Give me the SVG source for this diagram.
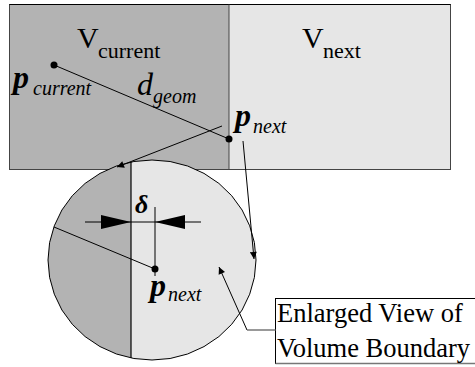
<svg xmlns="http://www.w3.org/2000/svg" width="475" height="367" viewBox="0 0 475 367">
<style>
  .t { font-family: "Liberation Serif", "Times New Roman", serif; fill: #000; }
  .big { font-size: 30px; }
  .sub { font-size: 22px; }
  .pi { font-size: 32px; font-style: italic; font-weight: bold; }
  .di { font-size: 32px; font-style: italic; }
  .si { font-size: 20px; font-style: italic; }
  .lbl { font-size: 26.5px; }
  .ln { stroke: #000; stroke-width: 1; fill: none; }
  .dark { fill: #b3b3b3; }
  .light { fill: #e6e6e6; }
</style>
<defs>
  <marker id="ah" viewBox="0 0 10 10" refX="10" refY="5" markerWidth="10" markerHeight="7" markerUnits="userSpaceOnUse" orient="auto">
    <path d="M0,0 L10,5 L0,10 Z" fill="#000"/>
  </marker>
  <polygon id="circ" points="256,260 254.4,277.4 249.7,294.2 242.1,310 231.7,324.3 218.9,336.6 204,346.6 187.6,354 170.1,358.5 152,360 133.9,358.5 116.4,354 100,346.6 85.1,336.6 72.3,324.3 61.9,310 54.3,294.2 49.6,277.4 48,260 49.6,242.6 54.3,225.8 61.9,210 72.3,195.7 85.1,183.4 100,173.4 116.4,166 133.9,161.5 152,160 170.1,161.5 187.6,166 204,173.4 218.9,183.4 231.7,195.7 242.1,210 249.7,225.8 254.4,242.6"/>
  <clipPath id="cc"><use href="#circ"/></clipPath>
</defs>

<g id="volumes">
  <rect x="9.5" y="4.5" width="219.5" height="165" class="dark"/>
  <rect x="229" y="4.5" width="221.5" height="165" class="light"/>
  <rect x="9.5" y="4.5" width="441" height="165" fill="none" stroke="#444" stroke-width="1"/>
  <line x1="9.5" y1="4.5" x2="450.5" y2="4.5" stroke="#000" stroke-width="1"/>
  <line x1="229" y1="4.5" x2="229" y2="169.5" stroke="#444" stroke-width="1"/>
</g>

<g id="v-current">
  <text class="t big" x="77" y="48">V</text>
  <text class="t sub" x="98" y="58">current</text>
</g>
<g id="v-next">
  <text class="t big" x="302" y="48">V</text>
  <text class="t sub" x="323" y="58">next</text>
</g>

<g id="p-current">
  <circle cx="54" cy="65" r="3.5" fill="#000"/>
  <text class="t pi" x="13" y="88">p</text>
  <text class="t si" x="33" y="95">current</text>
</g>

<g id="d-geom">
  <text class="t di" x="137" y="95">d</text>
  <text class="t si" x="153" y="103">geom</text>
</g>

<g id="p-next">
  <circle cx="229" cy="139" r="3.5" fill="#000"/>
  <text class="t pi" x="235" y="126">p</text>
  <text class="t si" x="253" y="133">next</text>
</g>

<g id="enlarged-view">
  <g clip-path="url(#cc)">
    <rect x="40" y="150" width="91" height="220" class="dark"/>
    <rect x="131" y="150" width="140" height="220" class="light"/>
  </g>
  <use href="#circ" fill="none" stroke="#000" stroke-width="1"/>
  <line x1="131" y1="162" x2="131" y2="358" stroke="#000" stroke-width="1.2"/>
  <line class="ln" x1="54" y1="227" x2="155" y2="269"/>
  <line class="ln" x1="155" y1="207" x2="155" y2="276"/>
  <circle cx="155" cy="269" r="3.5" fill="#000"/>
  <line class="ln" x1="85" y1="222" x2="201" y2="222"/>
  <polygon points="101,215 131,222 101,229" fill="#000"/>
  <polygon points="185,215 155,222 185,229" fill="#000"/>
  <text class="t pi" x="135" y="213" style="font-size:26px">δ</text>
  <text class="t pi" x="150" y="296">p</text>
  <text class="t si" x="168" y="301">next</text>
</g>

<g id="label-box">
  <rect x="275.5" y="298.5" width="210" height="65" fill="#fff" stroke="#000" stroke-width="1"/>
  <line x1="275.5" y1="363.5" x2="475" y2="363.5" stroke="#777" stroke-width="1.5"/>
  <text class="t lbl" x="277" y="322">Enlarged View of</text>
  <text class="t lbl" x="277" y="357">Volume Boundary</text>
</g>

<g id="connectors">
  <line class="ln" x1="222" y1="126" x2="117" y2="167" marker-end="url(#ah)"/>
  <line class="ln" x1="243" y1="141" x2="254" y2="259" marker-end="url(#ah)"/>
  <line class="ln" x1="247" y1="330" x2="219" y2="267" marker-end="url(#ah)"/>
  <line x1="247" y1="330" x2="275.5" y2="330" stroke="#777" stroke-width="1.5"/>
  <line class="ln" x1="54" y1="65" x2="229" y2="139"/>
</g>
</svg>
